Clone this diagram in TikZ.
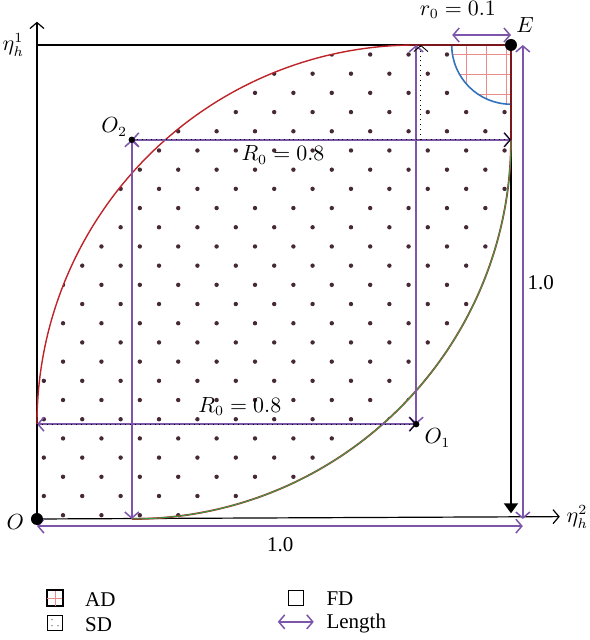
\documentclass[tikz,border=0pt]{standalone}
\usepackage{fontspec}
\setmainfont{Liberation Serif}
\usetikzlibrary{arrows.meta,positioning}

\definecolor{arcred}{RGB}{190,35,40}
\definecolor{arcgreen}{RGB}{45,160,70}
\definecolor{arcblue}{RGB}{50,115,190}
\definecolor{lenpurple}{RGB}{125,85,170}
\definecolor{gridred}{RGB}{235,140,140}
\definecolor{dotc}{RGB}{70,40,55}

\tikzset{
    len/.style={<->, draw=lenpurple, line width=0.75pt},
    dotline/.style={->, black, dotted, line width=0.45pt},
    axis/.style={->, black, line width=0.6pt},
    legbox/.style={draw, line width=0.6pt, minimum size=7.5pt, inner sep=0pt},
    lab/.style={inner sep=0pt}
}

\begin{document}
\begin{tikzpicture}[x=237pt, y=237pt, >={Straight Barb[length=3pt,width=7pt]},
    font=\fontsize{10.5}{12}\selectfont]
    \useasboundingbox (-0.078,-0.2553) rectangle (1.1646,1.0949);

    \coordinate (O) at (0,0);
    \coordinate (E) at (1,1);
    \coordinate (O1) at (0.8,0.2);
    \coordinate (O2) at (0.2,0.8);
    \coordinate (L) at (0,0.2);
    \coordinate (T) at (0.8,1);
    \coordinate (R) at (1,0.8);
    \coordinate (B) at (0.2,0);
    \coordinate (Y1) at (0,1);

    % dots of SD, clipped to the lens
    \begin{scope}
        \clip (O) -- (L) arc[start angle=180, end angle=90, radius=0.8] -- (E) -- (R)
            arc[start angle=0, end angle=-90, radius=0.8] -- cycle;
        \foreach \k in {0,2,...,26}
            \foreach \i in {0,...,12}
                \fill[dotc] ({0.055+0.081*\i},{0.008+0.0405*\k}) circle (1.1pt);
        \foreach \k in {1,3,...,25}
            \foreach \i in {0,...,12}
                \fill[dotc] ({0.0145+0.081*\i},{0.008+0.0405*\k}) circle (1.1pt);
    \end{scope}

    % AD corner
    \begin{scope}
        \clip (E) -- (0.875,1) arc[start angle=180, end angle=270, radius=0.125] -- cycle;
        \fill[white] (0.86,0.86) rectangle (E);
        \foreach \u in {0.907,0.949,0.991}
            \draw[gridred, line width=0.5pt] (\u,0.86) -- (\u,1);
        \foreach \v in {0.979,0.937,0.895}
            \draw[gridred, line width=0.5pt] (0.86,\v) -- (1,\v);
    \end{scope}
    \draw[arcblue, line width=0.8pt] (0.875,1) arc[start angle=180, end angle=270, radius=0.125];

    % frame and axes
    \coordinate (Ytip) at (0,1.049);
    \coordinate (Xtip) at (1.103,0.005);
    \coordinate (Ebot) at (1,0.012);
    \draw[axis] (O) -- (Ytip);
    \draw[axis] (O) -- (Xtip);
    \draw[black, line width=0.7pt] (Y1) -- (E);
    \draw[black, line width=1pt, -{Triangle[length=5pt,width=7pt]}] (E) -- (Ebot);

    % the two arcs
    \draw[arcred, line width=0.7pt] (L) arc[start angle=180, end angle=90, radius=0.8] -- (E) -- (R);
    \draw[arcred, line width=0.9pt] (R) arc[start angle=0, end angle=-90, radius=0.8];
    \draw[arcgreen, line width=0.5pt] (R) arc[start angle=0, end angle=-90, radius=0.8];

    % radii
    \coordinate (Tdot) at (0.81,0.8);
    \coordinate (Tend) at (0.81,1);
    \draw[len] (O2) -- (R);
    \draw[len] (O2) -- (B);
    \draw[len] (O1) -- (L);
    \draw[len] (O1) -- (T);
    \draw[dotline] (O2) -- (R);
    \draw[dotline] (L) -- (O1);
    \draw[dotline] (Tdot) -- (Tend);

    % lengths
    \coordinate (rA) at (0.876,1.021);
    \coordinate (rB) at (1,1.021);
    \coordinate (vA) at (1.025,0);
    \coordinate (vB) at (1.025,1);
    \coordinate (hA) at (0,-0.015);
    \coordinate (hB) at (1.025,-0.015);
    \draw[len] (rA) -- (rB);
    \draw[len] (vA) -- (vB);
    \draw[len] (hA) -- (hB);

    \fill (O) circle (3pt);
    \fill (E) circle (3pt);
    \fill (O1) circle (1.6pt);
    \fill (O2) circle (1.6pt);

    \node (lO) at (-0.046,-0.006) {$O$};
    \node (lE) at (1.03,1.042) {$E$};
    \node (lO1) at (0.845,0.171) {$O_1$};
    \node (lO2) at (0.163,0.827) {$O_2$};
    \node (leta1) at (-0.05,1.0) {$\eta_h^1$};
    \node (leta2) at (1.14,0.004) {$\eta_h^2$};
    \node (lr0) at (0.888,1.074) {$r_0 = 0.1$};
    \node (lR0a) at (0.519,0.768) {$R_0 = 0.8$};
    \node (lR0b) at (0.428,0.238) {$R_0 = 0.8$};
    \node (lv) at (1.063,0.498) {1.0};
    \node (lh) at (0.513,-0.055) {1.0};

    % legend
    \node[legbox] (adbox) at (0.038,-0.167) {};
    \draw[gridred, line width=0.4pt] (adbox.north) -- (adbox.south);
    \draw[gridred, line width=0.4pt] (adbox.west) -- (adbox.east);
    \draw[line width=0.6pt] (adbox.south west) rectangle (adbox.north east);
    \node[legbox] (sdbox) at (0.038,-0.219) {};
    \fill[dotc] ([shift={(-1.5pt,1.5pt)}]sdbox.center) circle (0.3pt);
    \fill[dotc] ([shift={(1.5pt,-1.5pt)}]sdbox.center) circle (0.3pt);
    \fill[dotc] ([shift={(-1.5pt,-1.5pt)}]sdbox.center) circle (0.3pt);
    \node[legbox] (fdbox) at (0.546,-0.167) {};
    \coordinate (lenA) at (0.508,-0.217);
    \coordinate (lenB) at (0.584,-0.217);
    \draw[len] (lenA) -- (lenB);
    \node[lab, anchor=west] (adtxt) at (0.101,-0.171) {AD};
    \node[lab, anchor=west] (sdtxt) at (0.101,-0.223) {SD};
    \node[lab, anchor=west] (fdtxt) at (0.61,-0.169) {FD};
    \node[lab, anchor=west] (lentxt) at (0.61,-0.221) {Length};
\end{tikzpicture}
\end{document}
